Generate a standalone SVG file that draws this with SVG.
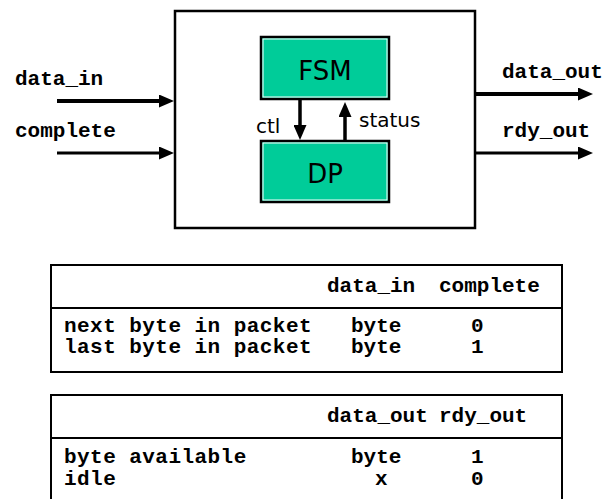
<svg xmlns="http://www.w3.org/2000/svg" width="608" height="499" viewBox="0 0 608 499">
  <style>
    .sig { font-family: "Liberation Mono", "Courier New", monospace; font-weight: bold; font-size: 21px; fill: #000; }
    .row { letter-spacing: 0.45px; }
    .blk { font-family: "DejaVu Sans", Verdana, sans-serif; font-size: 26px; fill: #000; }
    .lbl { font-family: "DejaVu Sans", Verdana, sans-serif; font-size: 20px; fill: #000; }
    .frame { fill: #fff; stroke: #000; stroke-width: 2.5; }
    .unit { fill: #00cc99; stroke: #000; stroke-width: 2.5; }
    .unit-edge { fill: none; stroke: #fff; stroke-width: 1; }
    .wire { stroke: #000; fill: none; }
    .tbl { fill: none; stroke: #000; stroke-width: 2; }
  </style>
  <defs>
    <marker id="head" viewBox="0 0 15 13" refX="0" refY="6.5" markerWidth="15" markerHeight="13" markerUnits="userSpaceOnUse" orient="auto">
      <path d="M0,0 L15,6.5 L0,13 z" fill="#000"/>
    </marker>
  </defs>

  <!-- top-level module boundary -->
  <g id="module">
    <rect class="frame" x="175" y="11" width="300" height="217"/>
  </g>

  <!-- controller -->
  <g id="fsm">
    <rect class="unit" x="261" y="37" width="128" height="62"/>
    <rect class="unit-edge" x="263" y="39" width="124" height="58"/>
    <text class="blk" x="325" y="80" text-anchor="middle">FSM</text>
  </g>

  <!-- datapath -->
  <g id="dp">
    <rect class="unit" x="261" y="141" width="128" height="61"/>
    <rect class="unit-edge" x="263" y="143" width="124" height="57"/>
    <text class="blk" x="325" y="183" text-anchor="middle">DP</text>
  </g>

  <!-- signal wires -->
  <g id="connectors">
    <line class="wire" x1="57" y1="101" x2="159" y2="101" stroke-width="4" marker-end="url(#head)"/>
    <line class="wire" x1="57" y1="153" x2="159" y2="153" stroke-width="3" marker-end="url(#head)"/>
    <line class="wire" x1="475" y1="94" x2="578" y2="94" stroke-width="4" marker-end="url(#head)"/>
    <line class="wire" x1="475" y1="153" x2="578" y2="153" stroke-width="3" marker-end="url(#head)"/>
    <line class="wire" x1="300" y1="100" x2="300" y2="125" stroke-width="3.5" marker-end="url(#head)"/>
    <line class="wire" x1="345" y1="141" x2="345" y2="117" stroke-width="3.5" marker-end="url(#head)"/>
  </g>

  <g id="labels">
    <text class="sig" x="15" y="85">data_in</text>
    <text class="sig" x="15" y="137">complete</text>
    <text class="sig" x="502" y="78">data_out</text>
    <text class="sig" x="502" y="137">rdy_out</text>
    <text class="lbl" x="256" y="133">ctl</text>
    <text class="lbl" x="359" y="127" font-size="21">status</text>
  </g>

  <!-- input encoding table -->
  <g id="input-table">
    <rect class="tbl" x="51" y="265" width="511" height="107"/>
    <line class="tbl" x1="51" y1="308" x2="562" y2="308"/>
    <text class="sig" x="327" y="292">data_in</text>
    <text class="sig" x="439" y="292">complete</text>
    <text class="sig row" x="64" y="332">next byte in packet</text>
    <text class="sig" x="351" y="332">byte</text>
    <text class="sig" x="471" y="332">0</text>
    <text class="sig row" x="64" y="353">last byte in packet</text>
    <text class="sig" x="351" y="353">byte</text>
    <text class="sig" x="471" y="353">1</text>
  </g>

  <!-- output encoding table -->
  <g id="output-table">
    <rect class="tbl" x="51" y="395" width="511" height="112"/>
    <line class="tbl" x1="51" y1="438" x2="562" y2="438"/>
    <text class="sig" x="327" y="422">data_out</text>
    <text class="sig" x="439" y="422">rdy_out</text>
    <text class="sig row" x="64" y="463">byte available</text>
    <text class="sig" x="351" y="463">byte</text>
    <text class="sig" x="471" y="463">1</text>
    <text class="sig row" x="64" y="485">idle</text>
    <text class="sig" x="375" y="485">x</text>
    <text class="sig" x="471" y="485">0</text>
  </g>
</svg>
